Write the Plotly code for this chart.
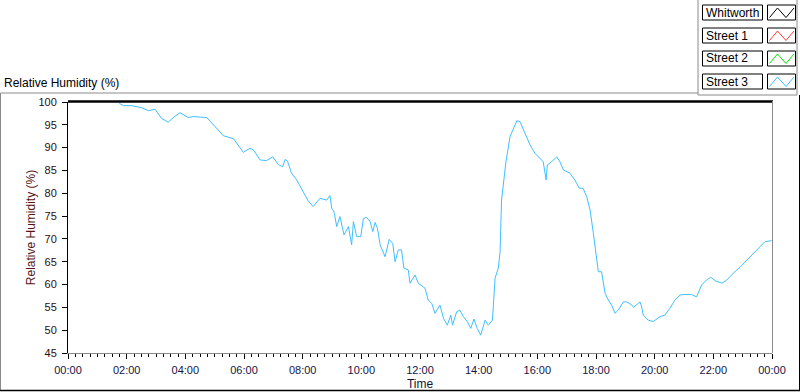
import pandas as pd
import plotly.graph_objects as go

# ---- data ----
hours = [1.75, 1.89, 2.17, 2.51, 2.74, 2.97, 3.19, 3.42, 3.59, 3.82, 4.10, 4.27, 4.73, 4.95,
         5.30, 5.64, 5.98, 6.20, 6.32, 6.55, 6.77, 6.98, 7.17, 7.32, 7.40, 7.48, 7.62, 7.80,
         8.02, 8.19, 8.36, 8.59, 8.82, 8.93, 8.99, 9.04, 9.08, 9.16, 9.27, 9.41, 9.56, 9.67,
         9.73, 9.84, 9.98, 10.07, 10.18, 10.30, 10.39, 10.47, 10.55, 10.64, 10.81, 10.95,
         11.07, 11.15, 11.26, 11.37, 11.45, 11.60, 11.66, 11.83, 11.94, 12.17, 12.28, 12.40,
         12.51, 12.68, 12.80, 12.93, 13.05, 13.11, 13.25, 13.36, 13.48, 13.61, 13.73, 13.84,
         13.95, 14.07, 14.22, 14.33, 14.47, 14.52, 14.56, 14.67, 14.73, 14.78, 14.84, 14.93,
         15.07, 15.18, 15.30, 15.41, 15.58, 15.75, 15.92, 16.09, 16.20, 16.30, 16.34, 16.49,
         16.66, 16.77, 16.89, 17.11, 17.28, 17.43, 17.56, 17.68, 17.80, 17.91, 18.00, 18.08,
         18.19, 18.31, 18.42, 18.53, 18.65, 18.76, 18.93, 19.05, 19.22, 19.28, 19.50, 19.55,
         19.61, 19.78, 19.95, 20.18, 20.35, 20.52, 20.69, 20.86, 20.97, 21.15, 21.26, 21.43,
         21.60, 21.77, 21.91, 22.06, 22.29, 22.46, 22.68, 22.91, 23.14, 23.36, 23.59, 23.76,
         23.99]
street3_rh = [99.7, 99.2, 99.2, 98.75, 98.1, 98.4, 96.4, 95.55, 96.6, 97.66, 96.6, 96.8, 96.6, 94.96,
              92.6, 91.96, 88.97, 89.85, 89.5, 87.3, 87.15, 88.0, 86.3, 85.8, 87.4, 87.1, 84.4, 82.9,
              80.35, 78.3, 77.1, 78.9, 78.5, 79.5, 76.7, 76.3, 75.6, 72.7, 74.9, 70.9, 72.7, 68.7,
              73.8, 70.5, 70.5, 74.5, 74.7, 73.8, 71.6, 73.6, 72.3, 68.7, 66.1, 69.9,
              69.0, 65.0, 67.6, 67.6, 63.6, 63.2, 60.3, 62.1, 60.3, 59.2, 56.6, 55.9,
              53.7, 55.5, 52.6, 51.1, 53.3, 51.1, 54.05, 54.4, 52.95, 51.9, 50.4, 52.45,
              50.4, 48.9, 52.2, 51.1, 52.2, 56.2, 61.4, 63.6, 67.2, 78.5, 82.2, 86.9,
              92.4, 94.2, 95.9, 95.7, 93.1, 90.6, 88.75, 87.7, 86.9, 82.9, 86.2, 86.9,
              88.0, 86.9, 85.1, 84.4, 82.9, 81.1, 81.1, 79.3, 76.3, 71.2, 66.1, 62.8,
              62.8, 58.1, 56.6, 55.5, 53.7, 54.4, 56.2, 56.2, 55.5, 55.0, 56.2, 55.3,
              53.3, 52.2, 51.9, 52.95, 53.3, 54.8, 56.6, 57.7, 57.8, 57.7, 57.8, 57.3,
              59.9, 61.0, 61.6, 60.85, 60.3, 61.0, 62.5, 63.8, 65.4, 66.7, 68.3, 69.4,
              69.6]
legend_names = ["Whitworth", "Street 1", "Street 2", "Street 3"]
legend_colors = ["#000000", "#ff3b3b", "#10dd10", "#3fbfff"]
y_ticks = [45, 50, 55, 60, 65, 70, 75, 80, 85, 90, 95, 100]

day0 = pd.Timestamp("2024-01-01")
times = day0 + pd.to_timedelta(hours, unit="h")

W, H = 800, 392
L, R, T, B = 68, 772, 102, 353


def px(x):
    return (x - L) / (R - L)


def py(y):
    return (B - y) / (B - T)


fig = go.Figure()
fig.add_trace(go.Scatter(x=times, y=street3_rh, mode="lines",
                         line=dict(color=legend_colors[3], width=1),
                         name="Street 3", showlegend=False, hoverinfo="x+y"))

shapes = []


def line(x0, y0, x1, y1, color, width=1):
    shapes.append(dict(type="line", xref="paper", yref="paper",
                       x0=px(x0), y0=py(y0), x1=px(x1), y1=py(y1),
                       line=dict(color=color, width=width), layer="above"))


# outer frame
line(0.5, 93, 698, 93, "#8a8a8a")
line(0.5, 93, 0.5, 390, "#8a8a8a")
line(0, 390.5, 800, 390.5, "#000000", 1.5)
line(799.5, 95, 799.5, 391, "#000000")
line(698, 0, 698, 95, "#8a8a8a")
line(698, 95, 797, 95, "#8a8a8a")
line(797, 0, 797, 95, "#8a8a8a")
# plot-area frame
line(L, 101.5, R + 1, 101.5, "#000000", 2.5)
line(R + 0.5, 101, R + 0.5, B, "#8a8a8a")

annotations = []
row_top = [5, 28, 51, 74]
for name, col, top in zip(legend_names, legend_colors, row_top):
    shapes.append(dict(type="rect", xref="paper", yref="paper",
                       x0=px(702.5), x1=px(762.5), y0=py(top), y1=py(top + 15),
                       line=dict(color="#000000", width=1), fillcolor="white", layer="above"))
    shapes.append(dict(type="rect", xref="paper", yref="paper",
                       x0=px(767.5), x1=px(795.5), y0=py(top), y1=py(top + 15),
                       line=dict(color="#000000", width=1), fillcolor="white", layer="above"))
    pts = [(769.5, top + 12.5), (777.5, top + 3), (786, top + 12.5), (794, top + 3)]
    path = "M " + " L ".join(f"{px(a)},{py(b)}" for a, b in pts)
    shapes.append(dict(type="path", xref="paper", yref="paper", path=path,
                       line=dict(color=col, width=1), layer="above"))
    annotations.append(dict(text=name, xref="paper", yref="paper", x=px(704), y=py(top + 7.5),
                            xanchor="left", yanchor="middle", showarrow=False,
                            font=dict(family="Liberation Sans", size=12, color="#000000")))

annotations.append(dict(text="Relative Humidity (%)", xref="paper", yref="paper",
                        x=px(2), y=py(83), xanchor="left", yanchor="middle", showarrow=False,
                        font=dict(family="Liberation Sans", size=12, color="#000000")))

fig.update_layout(
    width=W, height=H,
    margin=dict(l=L, r=W - R, t=T, b=H - B, pad=0, autoexpand=False),
    paper_bgcolor="white", plot_bgcolor="white",
    showlegend=False,
    shapes=shapes, annotations=annotations,
    font=dict(family="Liberation Sans", size=11, color="#000000"),
    xaxis=dict(
        type="date", automargin=False,
        range=[day0, day0 + pd.Timedelta(hours=24)],
        tickformat="%H:%M", dtick=2 * 3600 * 1000, tick0=day0,
        ticks="outside", ticklen=5, tickwidth=1, tickcolor="#000000",
        minor=dict(dtick=15 * 60 * 1000, ticks="outside", ticklen=3, tickcolor="#000000", showgrid=False),
        showgrid=False, zeroline=False,
        showline=True, linecolor="#8a8a8a", linewidth=1,
        ticklabelstandoff=2,
        tickfont=dict(family="Liberation Sans", size=11, color="#141446"),
        title=dict(text="Time", standoff=4,
                   font=dict(family="Liberation Sans", size=12, color="#141432")),
        fixedrange=True,
    ),
    yaxis=dict(
        automargin=False,
        range=[45, 100], tickvals=y_ticks,
        ticks="outside", ticklen=5, tickwidth=1, tickcolor="#000000",
        showgrid=False, zeroline=False,
        showline=True, linecolor="#000000", linewidth=1,
        ticklabelstandoff=3,
        tickfont=dict(family="Liberation Sans", size=11, color="#2e0c0c"),
        title=dict(text="Relative Humidity (%)", standoff=0,
                   font=dict(family="Liberation Sans", size=12, color="#551515")),
        fixedrange=True,
    ),
)

fig.write_html("out.html", config={"displayModeBar": False},
               post_script="document.body.style.margin='0';document.body.style.overflow='hidden';")
